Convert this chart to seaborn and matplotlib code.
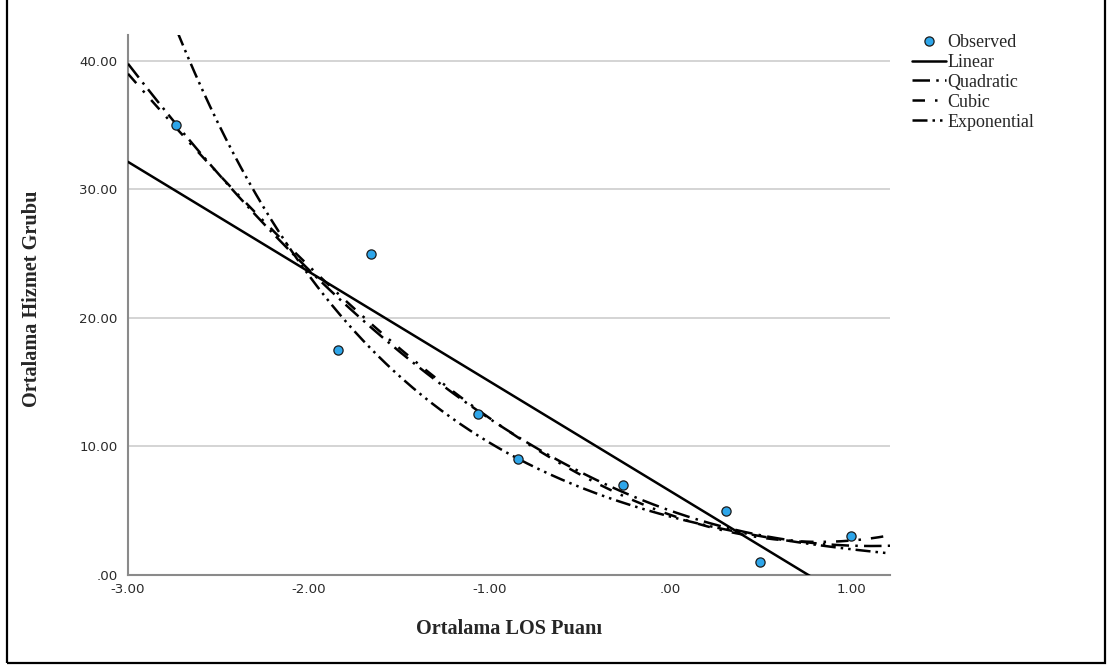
import numpy as np
import pandas as pd
import matplotlib
matplotlib.use("Agg")
import matplotlib.pyplot as plt
from matplotlib.patches import Rectangle
from matplotlib.lines import Line2D
import seaborn as sns

# Observed group means
los_score = [-2.735, -1.840, -1.657, -1.066, -0.845, -0.260, 0.309, 0.497, 1.000]
service_group = [35.0, 17.5, 25.0, 12.5, 9.0, 7.0, 5.0, 1.0, 3.0]

x_ticks = [-3, -2, -1, 0, 1]
x_tick_labels = ["-3.00", "-2.00", "-1.00", ".00", "1.00"]
y_ticks = [0, 10, 20, 30, 40]
y_tick_labels = [".00", "10.00", "20.00", "30.00", "40.00"]

x_range = (-3.0, 1.215)
y_range = (0.0, 42.0)

sns.set_theme(style="white")
plt.rcParams["font.family"] = ["DejaVu Sans"]

fig = plt.figure(figsize=(11.13, 6.65), dpi=100)
ax = fig.add_axes([128 / 1113, 1 - 575 / 665, 762 / 1113, 540 / 665])

obs = pd.DataFrame({"x": los_score, "y": service_group})
xs = np.asarray(los_score)
ys = np.asarray(service_group)

# Curve estimation: polynomial fits and log-linear exponential fit
grid = np.linspace(x_range[0], x_range[1], 400)
lin = np.polyval(np.polyfit(xs, ys, 1), grid)
quad = np.polyval(np.polyfit(xs, ys, 2), grid)
cub = np.polyval(np.polyfit(xs, ys, 3), grid)
b1, b0 = np.polyfit(xs, np.log(ys), 1)
expo = np.exp(b0) * np.exp(b1 * grid)

styles = {
    "Linear": "-",
    "Quadratic": (0, (7, 2.5, 1, 2.5)),
    "Cubic": (0, (5, 4, 1, 4)),
    "Exponential": (0, (6, 2, 1, 2, 1, 2)),
}
fits = {"Linear": lin, "Quadratic": quad, "Cubic": cub, "Exponential": expo}

for name, vals in fits.items():
    sns.lineplot(x=grid, y=vals, ax=ax, color="black", lw=1.8,
                 linestyle=styles[name], zorder=3)

sns.scatterplot(data=obs, x="x", y="y", ax=ax, s=44, color="#2ea6ea",
                edgecolor="#1b1b1b", linewidth=0.9, zorder=4)

ax.set_xlim(*x_range)
ax.set_ylim(*y_range)
ax.set_xticks(x_ticks)
ax.set_xticklabels(x_tick_labels)
ax.set_yticks(y_ticks)
ax.set_yticklabels(y_tick_labels)
ax.tick_params(axis="both", length=0, labelsize=9.6, colors="#2a2a2a")
ax.tick_params(axis="x", pad=6)
ax.tick_params(axis="y", pad=7.5)

for y in y_ticks[1:]:
    ax.axhline(y, color="#c9c9c9", lw=1.1, zorder=1)

for side in ["top", "right"]:
    ax.spines[side].set_visible(False)
for side in ["left", "bottom"]:
    ax.spines[side].set_color("#8a8a8a")
    ax.spines[side].set_linewidth(1.5)

label_font = dict(family="Liberation Serif", weight="bold", size=14.6)
ax.set_xlabel("Ortalama LOS Puanı", **label_font)
ax.set_ylabel("Ortalama Hizmet Grubu", **label_font)
ax.xaxis.set_label_coords(0.5, -0.0815)
ax.yaxis.set_label_coords(-0.1129, 0.511)

handles = [Line2D([], [], marker="o", ls="none", markersize=6.6,
                  markerfacecolor="#2ea6ea", markeredgecolor="#1b1b1b",
                  markeredgewidth=0.9)]
for name in fits:
    handles.append(Line2D([], [], color="black", lw=1.8,
                          linestyle=styles[name]))
fig.legend(handles, ["Observed"] + list(fits.keys()),
           loc="upper left", bbox_to_anchor=(912 / 1113, 1 - 34 / 665),
           frameon=False, prop=dict(family="Liberation Serif", size=13),
           handlelength=1.9, handletextpad=0.05, labelspacing=0.16,
           borderaxespad=0, borderpad=0)

fig.add_artist(Rectangle((7 / 1113, 2 / 665), 1098 / 1113, 1.0,
                         transform=fig.transFigure, fill=False,
                         edgecolor="black", lw=1.6, clip_on=False))

fig.savefig("out.png", dpi=100)
